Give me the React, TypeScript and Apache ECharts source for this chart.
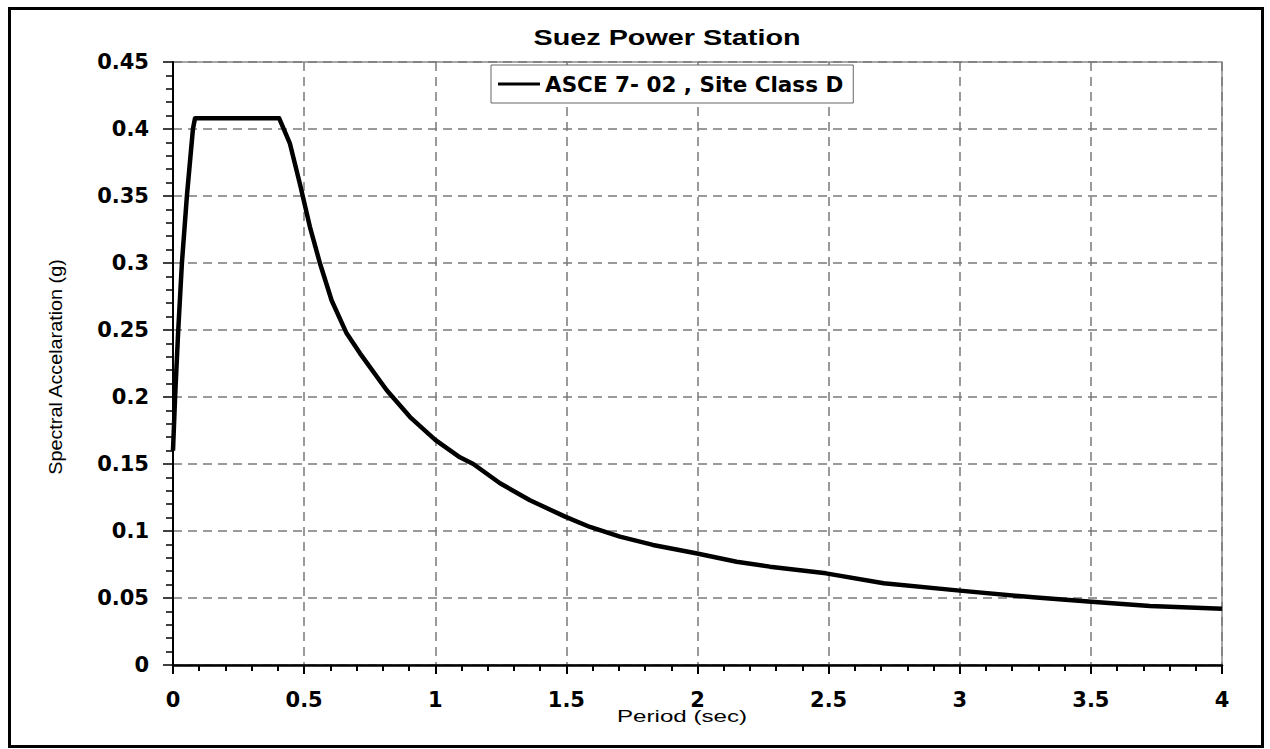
import React, { useEffect, useRef } from "react";
import * as echarts from "echarts";

const periods = [0, 0.008, 0.02, 0.034, 0.053, 0.076, 0.084, 0.405, 0.446, 0.484, 0.522, 0.56, 0.605, 0.662, 0.713, 0.815, 0.904, 1.0, 1.094, 1.145, 1.247, 1.361, 1.495, 1.59, 1.704, 1.83, 1.994, 2.149, 2.276, 2.49, 2.71, 3.0, 3.28, 3.49, 3.725, 4.0];
const accel = [0.16, 0.2, 0.25, 0.3, 0.35, 0.4, 0.408, 0.408, 0.389, 0.359, 0.327, 0.3, 0.272, 0.2475, 0.2326, 0.205, 0.185, 0.168, 0.155, 0.15, 0.1356, 0.123, 0.1107, 0.103, 0.0958, 0.0896, 0.0834, 0.0771, 0.0734, 0.0684, 0.061, 0.0555, 0.0505, 0.0473, 0.044, 0.042];
const seriesName = "ASCE 7- 02 , Site Class D";
const titleText = "Suez Power Station";
const xName = "Period (sec)";
const yName = "Spectral Accelaration (g)";

export default function App() {
  const ref = useRef<HTMLDivElement>(null);
  useEffect(() => {
    if (!ref.current) return;
    const chart = echarts.init(ref.current, null, { renderer: "svg" });
    const data = periods.map((p, i) => [p, accel[i]]);
    const gridColor = "#7a7a7a";
    chart.setOption({
      animation: false,
      backgroundColor: "#fff",
      grid: { left: 162, top: 52, right: 39, bottom: 80, show: true, borderColor: "#8a8a8a", borderWidth: 1.5, backgroundColor: "transparent" },
      legend: {
        show: true,
        left: 480,
        top: 55,
        orient: "horizontal",
        icon: "rect",
        itemWidth: 42,
        itemHeight: 3,
        padding: [8, 10, 8, 7],
        borderColor: "#666",
        borderWidth: 1,
        backgroundColor: "#fff",
        textStyle: { fontFamily: "DejaVu Sans", fontWeight: "bold", fontSize: 21.5, color: "#000", lineHeight: 22 },
        data: [seriesName],
      },
      graphic: [
        {
          type: "text",
          x: 656,
          y: 27,
          scaleX: 1.28,
          style: { text: titleText, fontFamily: "Liberation Sans", fontWeight: "bold", fontSize: 22.5, fill: "#000", align: "center", verticalAlign: "middle" },
        },
        {
          type: "text",
          x: 671,
          y: 706,
          scaleX: 1.42,
          style: { text: xName, fontFamily: "Liberation Sans", fontSize: 17, fill: "#000", align: "center", verticalAlign: "middle" },
        },
        {
          type: "text",
          x: 45,
          y: 357,
          rotation: Math.PI / 2,
          scaleX: 1.1,
          style: { text: yName, fontFamily: "Liberation Sans", fontSize: 18, fill: "#000", align: "center", verticalAlign: "middle" },
        },
      ],
      xAxis: {
        type: "value",
        min: 0,
        max: 4,
        interval: 0.5,
        axisLine: { show: true, onZero: false, lineStyle: { color: "#000", width: 2.5 } },
        axisTick: { show: true, inside: false, length: 9, lineStyle: { color: "#000", width: 2 } },
        minorTick: { show: true, splitNumber: 5, length: 6, lineStyle: { color: "#000", width: 2 } },
        axisLabel: { margin: 24, fontFamily: "DejaVu Sans", fontWeight: "bold", fontSize: 21, color: "#000" },
        splitLine: { show: true, lineStyle: { color: gridColor, width: 1.5, type: [9, 6] } },
        minorSplitLine: { show: false },
      },
      yAxis: {
        type: "value",
        min: 0,
        max: 0.45,
        interval: 0.05,
        axisLine: { show: true, onZero: false, lineStyle: { color: "#000", width: 2 } },
        axisTick: { show: true, inside: false, length: 10, lineStyle: { color: "#000", width: 1.5 } },
        minorTick: { show: true, splitNumber: 5, length: 7, lineStyle: { color: "#000", width: 1.5 } },
        axisLabel: { margin: 24, fontFamily: "DejaVu Sans", fontWeight: "bold", fontSize: 21, color: "#000" },
        splitLine: { show: true, lineStyle: { color: gridColor, width: 1.5, type: [9, 6] } },
      },
      series: [
        {
          name: seriesName,
          type: "line",
          data,
          symbol: "none",
          smooth: false,
          lineStyle: { color: "#000", width: 4.5, join: "round" },
          itemStyle: { color: "#000" },
          z: 5,
        },
      ],
    });
    return () => chart.dispose();
  }, []);
  return (
    <div
      style={{
        position: "absolute",
        left: 8,
        top: 7,
        width: 1256,
        height: 741,
        boxSizing: "border-box",
        border: "3px solid #000",
        background: "#fff",
      }}
    >
      <div ref={ref} style={{ width: 1250, height: 735 }} />
    </div>
  );
}
